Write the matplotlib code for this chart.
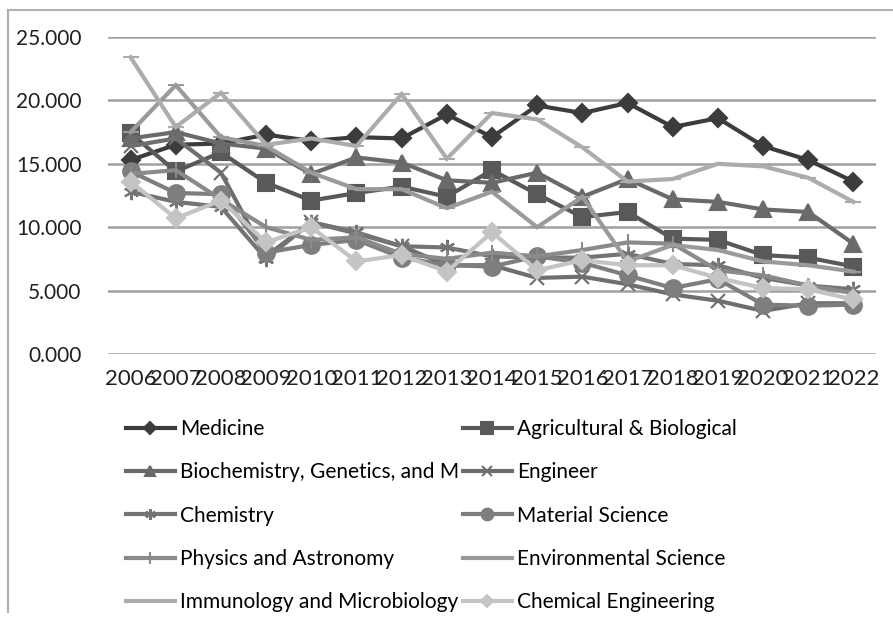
import matplotlib
matplotlib.use("Agg")
import matplotlib.pyplot as plt
from matplotlib.lines import Line2D

years = [str(y) for y in range(2006, 2023)]

medicine = [15.3, 16.5, 16.6, 17.3, 16.8, 17.1, 17.0, 18.9, 17.1, 19.6, 19.0, 19.8, 17.9, 18.6, 16.4, 15.3, 13.6]
agricultural = [17.4, 14.4, 15.9, 13.5, 12.1, 12.7, 13.2, 12.4, 14.5, 12.6, 10.8, 11.2, 9.1, 9.0, 7.8, 7.6, 6.9]
biochemistry = [17.0, 17.5, 16.6, 16.2, 14.2, 15.5, 15.1, 13.7, 13.5, 14.3, 12.4, 13.8, 12.2, 12.0, 11.4, 11.2, 8.7]
engineer = [16.4, 17.0, 14.3, 7.7, 10.4, 9.5, 8.5, 7.0, 7.0, 6.0, 6.1, 5.5, 4.7, 4.2, 3.4, 4.0, 4.0]
chemistry = [12.8, 12.0, 11.6, 7.5, 10.4, 9.6, 8.5, 8.4, 7.7, 7.6, 7.6, 7.9, 7.1, 7.0, 6.0, 5.4, 5.1]
material = [14.4, 12.7, 12.6, 8.0, 8.6, 9.0, 7.6, 7.0, 6.9, 7.7, 7.2, 6.2, 5.2, 5.9, 3.9, 3.8, 3.9]
physics = [14.2, 14.5, 12.2, 10.0, 9.0, 9.2, 7.9, 7.5, 8.0, 7.7, 8.2, 8.8, 8.7, 6.6, 6.2, 5.4, 4.8]
environmental = [17.5, 21.2, 17.1, 16.4, 14.3, 13.0, 13.0, 11.5, 12.8, 10.0, 12.4, 7.3, 8.6, 8.2, 7.3, 7.0, 6.5]
immunology = [23.4, 17.9, 20.6, 16.5, 17.0, 16.4, 20.5, 15.4, 19.0, 18.5, 16.3, 13.6, 13.8, 15.0, 14.8, 13.9, 12.0]
chem_eng = [13.6, 10.7, 12.1, 8.8, 10.0, 7.3, 7.8, 6.5, 9.6, 6.6, 7.4, 7.0, 7.0, 6.0, 5.2, 5.1, 4.3]

series = [
    ("Medicine", medicine, "#3c3c3c", "D", 9),
    ("Agricultural & Biological", agricultural, "#595959", "s", 12),
    ("Biochemistry, Genetics, and M", biochemistry, "#6a6a6a", "^", 11),
    ("Engineer", engineer, "#6e6e6e", "x", 10),
    ("Chemistry", chemistry, "#747474", (6, 2, 0), 11),
    ("Material Science", material, "#7e7e7e", "o", 12),
    ("Physics and Astronomy", physics, "#8a8a8a", "|", 12),
    ("Environmental Science", environmental, "#9a9a9a", "_", 12),
    ("Immunology and Microbiology", immunology, "#acacac", "_", 12),
    ("Chemical Engineering", chem_eng, "#c4c4c4", "D", 9),
]

plt.rcParams['font.family'] = ['Lato', 'DejaVu Sans']

fig = plt.figure(figsize=(8.93, 6.22), dpi=100)
W, H = 893, 622
ax = fig.add_axes([108 / W, 1 - 354 / H, (876 - 108) / W, (354 - 37) / H])

x = list(range(len(years)))
handles = []
for name, vals, col, mk, ms in series:
    ln, = ax.plot(x, vals, color=col, lw=3, marker=mk, markersize=ms,
                  markerfacecolor=col, markeredgecolor=col, markeredgewidth=1.5,
                  label=name, solid_joinstyle="miter")
    handles.append(ln)

ax.set_xlim(-0.5, len(years) - 0.5)
ax.set_ylim(0, 25)
ax.set_yticks([0, 5, 10, 15, 20, 25])
ax.set_yticklabels([f"{v:.3f}" for v in [0, 5, 10, 15, 20, 25]], fontsize=15, color="#202020")
ax.set_xticks(x)
ax.set_xticklabels(years, fontsize=16, color="#202020")
ax.tick_params(length=0)
ax.tick_params(axis="y", pad=19)
ax.tick_params(axis="x", pad=11)
ax.yaxis.grid(True, color="#a0a0a0", lw=1.8)
ax.set_axisbelow(True)
for s in ax.spines.values():
    s.set_visible(False)

# outer chart border (left and top edges)
fig.add_artist(Line2D([8 / W, 8 / W], [1 - 612 / H, 1 - 10 / H], color="#b0b0b0", lw=1.5))
fig.add_artist(Line2D([8 / W, 1.0], [1 - 10 / H, 1 - 10 / H], color="#b0b0b0", lw=1.5))

left = [handles[i] for i in (0, 2, 4, 6, 8)]
right = [handles[i] for i in (1, 3, 5, 7, 9)]
for hs, x0 in ((left, 126), (right, 463)):
    fig.legend(handles=hs, loc="upper left", bbox_to_anchor=(x0 / W, 1 - 419 / H),
               frameon=False, fontsize=15, handlelength=2.35, handletextpad=0.25,
               labelspacing=1.12, borderpad=0, borderaxespad=0, markerscale=0.7)

fig.savefig("out.png", dpi=100)
